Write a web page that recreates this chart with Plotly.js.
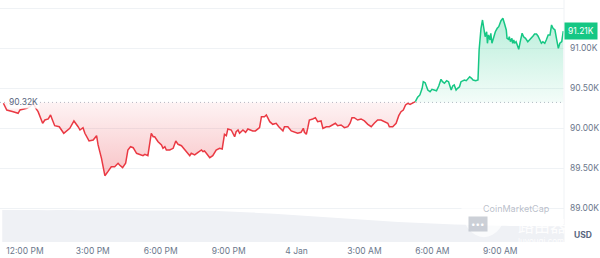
<!DOCTYPE html>
<html><head><meta charset="utf-8">
<script src="https://cdn.plot.ly/plotly-3.0.1.min.js"></script>
<style>html,body{margin:0;padding:0;background:#fff;}#chart{width:600px;height:258px;}</style>
</head><body><div id="chart"></div>
<script>
// minutes since 00:00 on 3 Jan
const times = [663,672,689,702,707,725,733,742,749,755,767,773,782,788,793,799,811,823,839,850,861,866,874,879,890,901,910,914,923,932,940,949,958,967,971,979,987,993,1000,1007,1016,1024,1033,1038,1046,1055,1060,1064,1073,1082,1086,1091,1095,1104,1113,1120,1126,1135,1144,1152,1157,1161,1170,1179,1188,1192,1196,1201,1210,1218,1227,1236,1243,1249,1254,1258,1267,1276,1280,1285,1289,1298,1305,1311,1316,1324,1331,1338,1342,1347,1355,1360,1369,1377,1386,1393,1404,1408,1417,1426,1435,1443,1452,1458,1461,1466,1470,1474,1483,1490,1496,1505,1510,1519,1527,1536,1543,1549,1558,1567,1576,1582,1587,1593,1602,1611,1620,1629,1638,1646,1655,1664,1673,1682,1686,1695,1704,1711,1717,1723,1729,1735,1741,1748,1755,1761,1767,1773,1776,1781,1788,1794,1799,1805,1811,1817,1823,1827,1832,1838,1843,1850,1854,1858,1863,1867,1872,1876,1881,1885,1890,1895,1899,1904,1908,1915,1921,1924,1929,1933,1938,1940,1944,1946,1949,1953,1955,1958,1962,1967,1972,1976,1982,1987,1991,1996,1998,2002,2004,2007,2011,2013,2016,2018,2022,2025,2029,2033,2038,2042,2047,2053,2058,2062,2067,2071,2076,2080,2085,2089,2093,2098,2102,2107,2112,2116,2120,2125,2129,2134,2138,2143,2147];
// price in thousands USD
const prices = [90.309,90.225,90.204,90.184,90.225,90.246,90.266,90.309,90.246,90.204,90.059,90.100,90.113,90.163,90.100,90.029,90.016,89.934,89.996,90.088,90.016,89.975,90.004,89.934,89.838,89.850,89.904,89.788,89.621,89.404,89.454,89.516,89.516,89.559,89.538,89.504,89.559,89.725,89.766,89.754,89.684,89.671,89.654,89.671,89.654,89.934,89.891,89.891,89.829,89.788,89.746,89.766,89.725,89.725,89.746,89.838,89.796,89.779,89.725,89.671,89.654,89.684,89.663,89.696,89.725,89.704,89.713,89.684,89.629,89.654,89.725,89.746,89.738,89.921,89.904,89.988,89.975,89.891,89.954,89.975,89.934,89.975,89.946,89.988,89.975,89.963,89.963,89.996,90.004,90.141,90.141,90.163,90.079,90.046,90.059,90.016,89.963,90.016,90.016,89.963,89.946,89.934,89.946,89.996,89.946,89.921,90.004,90.100,90.113,90.129,90.079,90.088,89.996,90.016,90.016,90.038,90.059,90.029,90.038,90.004,90.016,90.059,90.129,90.129,90.100,90.113,90.088,90.046,90.016,90.059,90.100,90.100,90.079,90.059,90.016,90.016,90.059,90.154,90.204,90.225,90.288,90.309,90.296,90.309,90.329,90.384,90.413,90.496,90.579,90.566,90.475,90.454,90.484,90.475,90.466,90.525,90.609,90.579,90.559,90.591,90.579,90.475,90.525,90.538,90.475,90.496,90.516,90.579,90.591,90.600,90.591,90.621,90.641,90.621,90.600,90.591,90.600,90.975,91.246,91.350,91.225,91.141,91.204,91.059,91.163,91.100,91.184,91.059,91.121,91.204,91.246,91.266,91.341,91.371,91.309,91.225,91.121,91.109,91.141,91.079,91.121,91.059,91.100,91.059,91.079,91.038,90.984,91.079,91.184,91.141,91.121,91.079,91.100,91.121,91.150,91.175,91.175,91.150,91.091,91.059,91.079,91.059,91.100,91.163,91.163,91.288,91.246,91.225,91.121,90.996,91.059,91.079,91.210];
const basePrice = 90.32;
const lastPrice = 91.21;
// volume (billions USD), hourly
const volTimes = [660,720,780,840,900,960,1020,1080,1140,1200,1260,1320,1380,1440,1500,1560,1620,1680,1740,1800,1860,1920,1980,2040,2100,2149];
const volumes = [3.2,3.2,3.18,3.2,3.17,3.18,3.16,3.15,3.13,3.12,3.05,2.95,2.82,2.68,2.53,2.38,2.23,2.08,1.95,1.85,1.75,1.68,1.62,1.6,1.58,1.57];
const tickTimes = [720,900,1080,1260,1440,1620,1800,1980];
const tickLabels = ["12:00 PM","3:00 PM","6:00 PM","9:00 PM","4 Jan","3:00 AM","6:00 AM","9:00 AM"];
const priceTicks = [89,89.5,90,90.5,91,91.5];
const priceTickLabels = ["89.00K","89.50K","90.00K","90.50K","91.00K",""];

let k = prices.length - 1;
while (k > 0 && prices[k-1] >= basePrice) k--;
const redX = times.slice(0, k+1), redY = prices.slice(0, k+1);
const grnX = times.slice(k), grnY = prices.slice(k);
const xMin = 654, xMax = 2149;

const RED = '#ea3943', GREEN = '#16c784';
const traces = [
  {x: volTimes, y: volumes, yaxis: 'y2', type: 'scatter', mode: 'lines', line: {width: 0, shape: 'spline'}, fill: 'tozeroy', fillcolor: '#eff1f5', hoverinfo: 'skip'},
  {x: [xMin, xMax], y: [basePrice, basePrice], mode: 'lines', line: {color: '#b4bac5', width: 1, dash: '1px,3px'}, hoverinfo: 'skip'},
  {x: [redX[0], redX[redX.length-1]], y: [basePrice, basePrice], mode: 'lines', line: {width: 0}, hoverinfo: 'skip'},
  {x: redX, y: redY, mode: 'lines', line: {color: RED, width: 1.5}, fill: 'tonexty',
   fillgradient: {type: 'vertical', start: 89.4, stop: basePrice, colorscale: [[0, 'rgba(234,57,67,0.30)'], [1, 'rgba(234,57,67,0.06)']]}},
  {x: [grnX[0], grnX[grnX.length-1]], y: [basePrice, basePrice], mode: 'lines', line: {width: 0}, hoverinfo: 'skip'},
  {x: grnX, y: grnY, mode: 'lines', line: {color: GREEN, width: 1.5}, fill: 'tonexty',
   fillgradient: {type: 'vertical', start: basePrice, stop: 91.37, colorscale: [[0, 'rgba(22,199,132,0.05)'], [1, 'rgba(22,199,132,0.30)']]}}
];

const layout = {
  width: 600, height: 258,
  margin: {l: 0, r: 36, t: 0, b: 16, pad: 0},
  paper_bgcolor: '#fff', plot_bgcolor: '#fff',
  showlegend: false,
  font: {family: 'Inter, "Noto Sans", sans-serif', size: 8.5, color: '#58667e'},
  xaxis: {range: [xMin, xMax], tickvals: tickTimes, ticktext: tickLabels, showgrid: false, zeroline: false, showline: false, ticks: '', ticklabelstandoff: 2, tickfont: {size: 8.5, color: '#6b778c'}, fixedrange: true},
  yaxis: {side: 'right', range: [88.575, 91.6], tickvals: priceTicks, ticktext: priceTickLabels, showgrid: true, gridcolor: '#eff2f5', gridwidth: 1, zeroline: false, showline: false, ticks: '', ticklabelstandoff: 5, tickfont: {size: 8.5, color: '#6b778c'}},
  yaxis2: {overlaying: 'y', range: [0, 24.2], visible: false},
  shapes: [
    {type: 'line', xref: 'paper', yref: 'paper', x0: 1, x1: 1, y0: 0, y1: 1, line: {color: '#eff2f5', width: 1}},
    {type: 'circle', xref: 'paper', yref: 'paper', x0: 0.818, x1: 0.898, y0: 0.02, y1: 0.27, fillcolor: 'rgba(255,255,255,0.7)', line: {width: 0}}
  ],
  annotations: [
    {xref: 'paper', x: 0.012, xanchor: 'left', y: basePrice, yanchor: 'middle', text: '90.32K', showarrow: false, font: {size: 8.5, color: '#58667e'}, bgcolor: 'rgba(255,255,255,0.85)', borderpad: 1},
    {xref: 'paper', x: 1, xanchor: 'left', y: lastPrice, yanchor: 'middle', text: '91.21K', showarrow: false, font: {size: 8.5, color: '#ffffff'}, bgcolor: GREEN, borderpad: 3},
    {xref: 'paper', yref: 'paper', x: 1.015, xanchor: 'left', y: 0.0, yanchor: 'bottom', text: '<b>USD</b>', showarrow: false, font: {size: 8.5, color: '#58667e'}},
    {xref: 'paper', x: 0.852, xanchor: 'left', y: 89.0, yanchor: 'middle', text: 'CoinMarketCap', showarrow: false, font: {size: 9, color: 'rgba(128,138,157,0.55)'}},
    {xref: 'paper', x: 0.83, xanchor: 'left', y: 88.8, yanchor: 'middle', text: '•••', showarrow: false, font: {size: 8, color: '#ffffff'}, bgcolor: 'rgba(170,176,188,0.6)', borderpad: 2},
    {xref: 'paper', x: 0.915, xanchor: 'left', y: 88.79, yanchor: 'middle', text: '路由器', showarrow: false, font: {size: 16, color: 'rgba(255,255,255,0.9)', family: '"Noto Sans CJK SC", sans-serif'}},
    {xref: 'paper', x: 0.915, xanchor: 'left', y: 88.59, yanchor: 'middle', text: 'luyouqi.com', showarrow: false, font: {size: 8, color: 'rgba(255,255,255,0.9)'}}
  ]
};
Plotly.newPlot('chart', traces, layout, {staticPlot: true, displayModeBar: false});
</script></body></html>
